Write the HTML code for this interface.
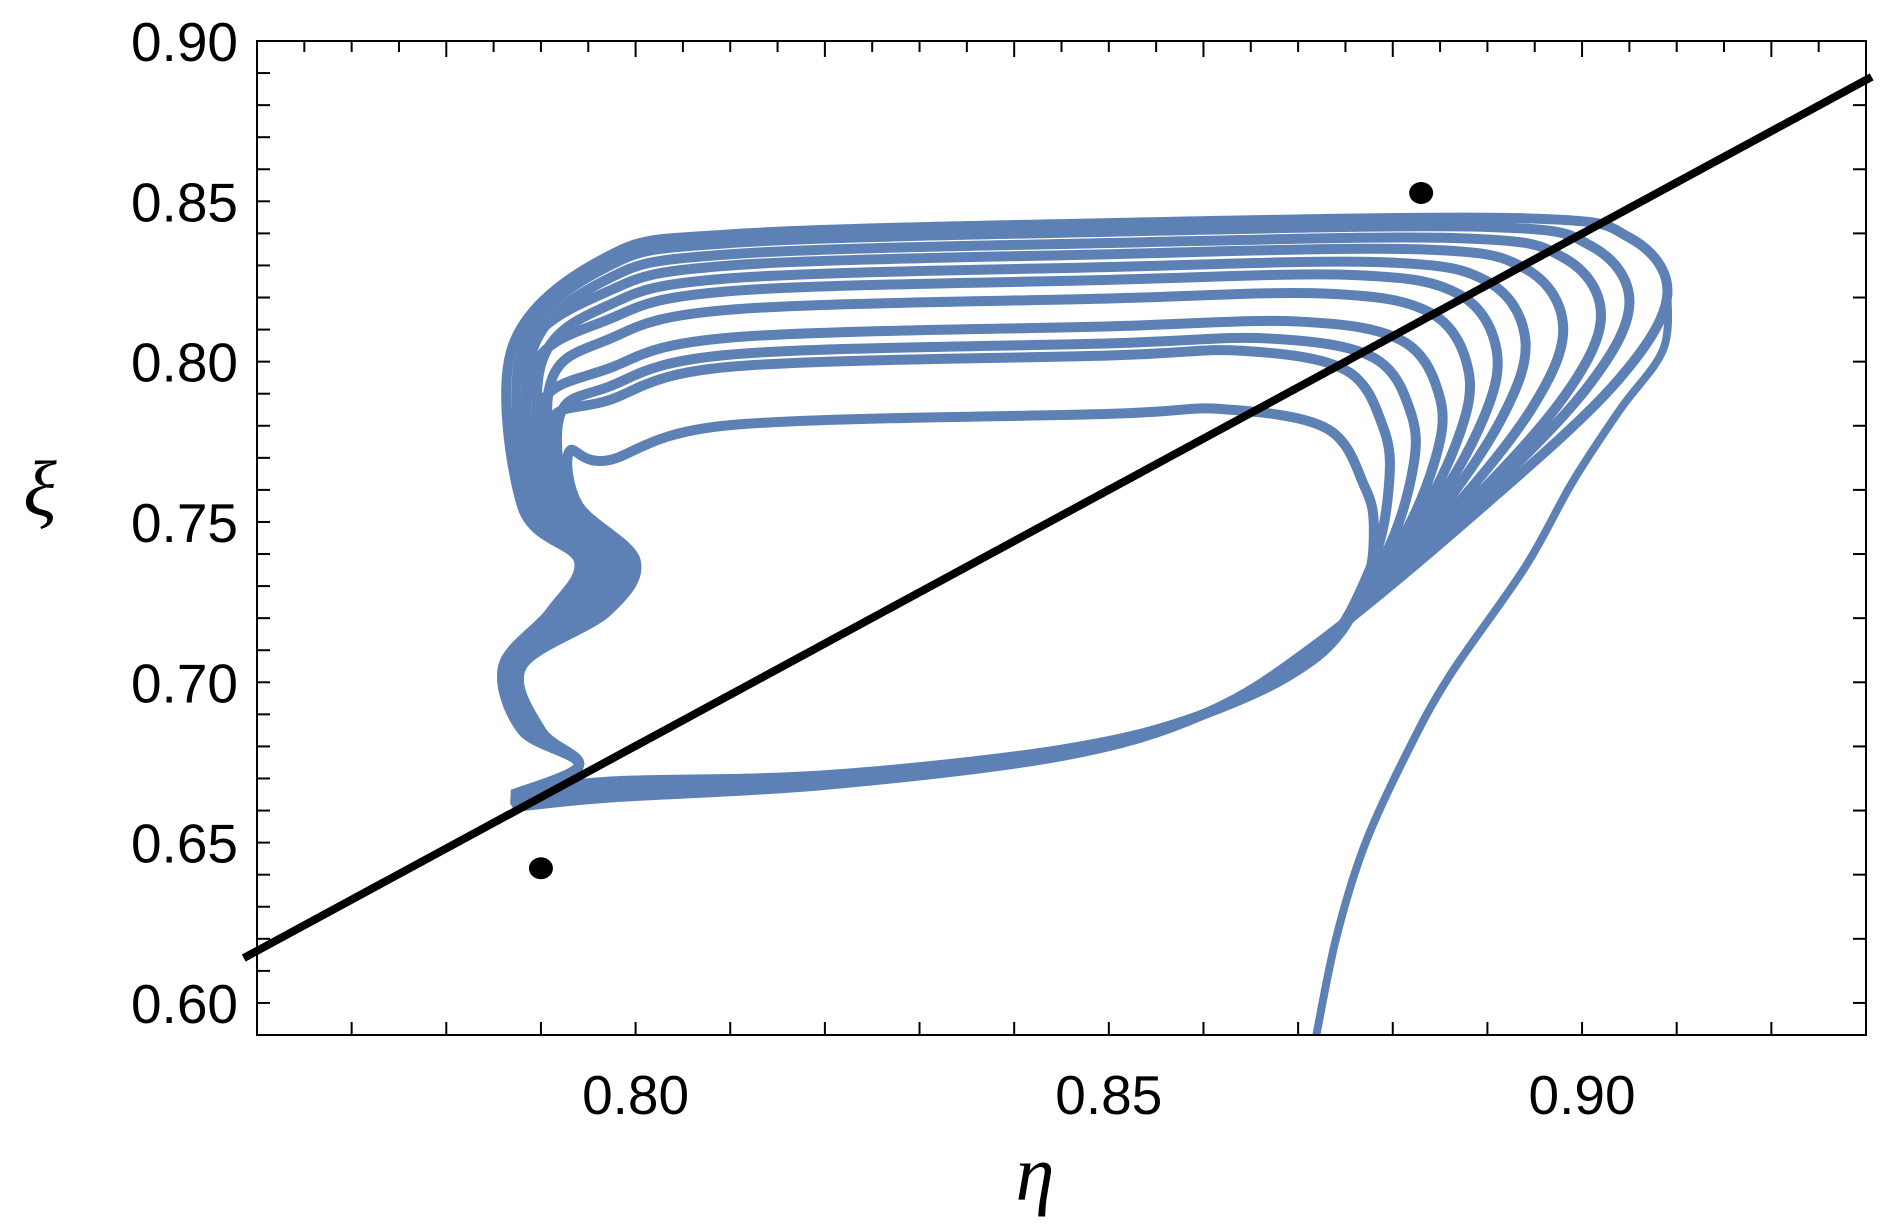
<!DOCTYPE html>
<html><head><meta charset="utf-8"><style>
html,body{margin:0;padding:0;background:#fff;}
svg{display:block;}
.tl{font-family:"Liberation Sans",sans-serif;font-size:55px;fill:#000;}
</style></head><body>
<svg id="chart" width="1895" height="1227" viewBox="0 0 1895 1227" xmlns="http://www.w3.org/2000/svg">
<defs><clipPath id="clip"><rect x="257" y="41" width="1609" height="994"/></clipPath></defs>
<g id="ticks"></g>
<g id="marks"></g>
<rect x="257" y="41" width="1609" height="994" fill="none" stroke="#000" stroke-width="2"/>
<text x="40" y="515" font-family="Liberation Serif,serif" font-style="italic" font-size="78" text-anchor="middle">ξ</text>
<text x="1035" y="1200" font-family="Liberation Serif,serif" font-style="italic" font-size="78" text-anchor="middle">η</text>
</svg>
<script>
const xTickLabels=["0.80","0.85","0.90"];
const xTickValues=[0.80,0.85,0.90];
const yTickLabels=["0.60","0.65","0.70","0.75","0.80","0.85","0.90"];
const yTickValues=[0.60,0.65,0.70,0.75,0.80,0.85,0.90];
// loops: top-band xi level, right-cap eta, left-side eta
const loopTops=[0.8447,0.8420,0.8385,0.8350,0.8310,0.8270,0.8212,0.8125,0.8072,0.8034,0.7852];
const loopRights=[0.909,0.905,0.902,0.898,0.894,0.891,0.888,0.885,0.882,0.879,0.877];
const loopLefts=[0.787,0.788,0.789,0.788,0.790,0.789,0.791,0.790,0.792,0.791,0.793];
const tailEta=[0.8718,0.8740,0.8770,0.8815,0.8860,0.8940,0.8990,0.9040,0.9086,0.9090];
const tailXi=[0.588,0.620,0.649,0.678,0.702,0.736,0.7625,0.785,0.804,0.823];
const lineEta=[0.7586,0.9306];
const lineXi=[0.614,0.8888];
const dotEta=[0.790,0.883];
const dotXi=[0.642,0.8526];

const X0=257,X1=1866,Y0=41,Y1=1035;
const sx=v=>X0+(v-0.76)/(0.93-0.76)*(X1-X0);
const sy=v=>Y0+(0.90-v)/(0.90-0.59)*(Y1-Y0);
const NS="http://www.w3.org/2000/svg";
const ticks=document.getElementById('ticks'),marks=document.getElementById('marks');
function mk(t,a,p){const e=document.createElementNS(NS,t);for(const k in a)e.setAttribute(k,a[k]);p.appendChild(e);return e;}
for(let i=0;i<=17;i++){const v=0.76+i*0.01,x=sx(v);
 const t=mk('line',{x1:x,y1:Y1,x2:x,y2:Y1-13,stroke:'#000','stroke-width':2},ticks);
 }
for(let i=0;i<=34;i++){const v=0.76+i*0.005,x=sx(v);
 const t=mk('line',{x1:x,y1:Y0,x2:x,y2:Y0+(i%4==0?16:11),stroke:'#000','stroke-width':2},ticks);
 }
for(let i=0;i<=31;i++){const v=0.59+i*0.01,y=sy(v);
 const t=mk('line',{x1:X0,y1:y,x2:X0+13,y2:y,stroke:'#000','stroke-width':2},ticks);
 }
for(let i=0;i<=15;i++){const v=0.60+i*0.02,y=sy(v);
 const t=mk('line',{x1:X1,y1:y,x2:X1-13,y2:y,stroke:'#000','stroke-width':2},ticks);
 }
xTickValues.forEach((v,i)=>{const t=mk('text',{x:sx(v),y:1114,'text-anchor':'middle',class:'tl'},ticks);t.textContent=xTickLabels[i];
 });
yTickValues.forEach((v,i)=>{const t=mk('text',{x:238,y:sy(v)+20,'text-anchor':'end',class:'tl'},ticks);t.textContent=yTickLabels[i];
 });

function smooth(pts){let d=`M${pts[0][0]},${pts[0][1]}`;
 for(let i=0;i<pts.length-1;i++){const p0=pts[Math.max(i-1,0)],p1=pts[i],p2=pts[i+1],p3=pts[Math.min(i+2,pts.length-1)];
  d+=` C${p1[0]+(p2[0]-p0[0])/6},${p1[1]+(p2[1]-p0[1])/6} ${p2[0]-(p3[0]-p1[0])/6},${p2[1]-(p3[1]-p1[1])/6} ${p2[0]},${p2[1]}`;}
 return d;}
const cg=mk('g',{'clip-path':'url(#clip)'},marks);
const bl=mk('line',{x1:sx(lineEta[0]),y1:sy(lineXi[0]),x2:sx(lineEta[1]),y2:sy(lineXi[1]),stroke:'#000','stroke-width':8},marks);

loopTops.forEach((t,i)=>{const r=loopRights[i],l=loopLefts[i],k=i/10;
 const capXi=t-0.024, a0=[0.872,0.712-0.004*k];
 const m1=[a0[0]+0.4*(r-a0[0])+0.003,a0[1]+0.4*(capXi-a0[1])];
 const m2=[a0[0]+0.8*(r-a0[0])+0.002,a0[1]+0.75*(capXi-a0[1])];
 const corner=Math.max(t-0.04+0.02*k,0.772);
 const p=[[0.787,0.661+0.004*k],[0.797,0.664+0.005*k],[0.82,0.668+0.003*k],[0.845,0.677+0.002*k],[0.860,0.690],a0,
  m1,m2,[r,capXi],[r-0.004,t-0.006],[r-0.015,t],[0.85,t-0.0015],[0.81,t-0.005],[0.797,t-0.012-0.004*k],
  [l,corner],[l+0.001,0.755],[l+0.007,0.738],[l+0.004,0.722],[0.786+0.002*k,0.705],[0.788+0.002*k,0.685],[0.794,0.674],[0.787,0.661+0.004*k]];
 const e=mk('path',{d:smooth(p.map(q=>[sx(q[0]),sy(q[1])])),fill:'none',stroke:'#5e81b5','stroke-width':10,'stroke-linejoin':'round'},cg);
 });
const tp=tailEta.map((v,i)=>[sx(v),sy(tailXi[i])]);
const tl=mk('path',{d:smooth(tp),fill:'none',stroke:'#5e81b5','stroke-width':8},cg);

dotEta.forEach((v,i)=>{const c=mk('ellipse',{cx:sx(v),cy:sy(dotXi[i]),rx:12,ry:11,fill:'#000'},marks);
 });
</script>
</body></html>
